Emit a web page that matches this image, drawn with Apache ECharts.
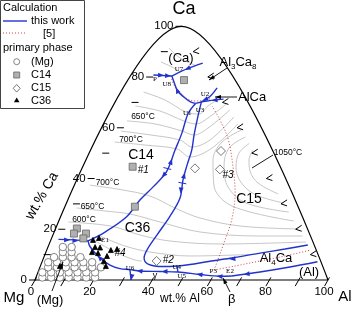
<!DOCTYPE html>
<html>
<head>
<meta charset="utf-8" />
<title></title>
<script src="https://cdn.jsdelivr.net/npm/echarts@6.0.0/dist/echarts.min.js"></script>
</head>
<body style="margin:0;background:#fff;">
<div id="main" style="width:355px;height:312px;"></div>
<script>
// all compositions are [wt.% Al, wt.% Ca], Mg is the balance
var tickValues = [0, 10, 20, 30, 40, 50, 60, 70, 80, 90, 100];
var majorTicks = [0, 20, 40, 60, 80, 100];

// calculated univariant lines (this work)
var lineP = [[0, 80.8], [3.4, 80.6], [6.5, 80.4]];
var lineU7 = [[6.5, 80.4], [10.5, 83.4], [14.5, 85.5]];
var lineU8U1 = [[6.5, 80.4], [9.35, 76.9], [11.3, 74.6], [14.45, 72.3], [17.75, 70.3], [20.0, 69.6]];
var lineU1U2 = [[20.0, 69.6], [21.7, 70.2], [23.55, 72.3], [24.3, 75.7]];
var lineU3Edge = [[21.7, 70.2], [25.5, 70.9], [28.7, 71.3]];
var lineA = [[20.0, 69.6], [19.45, 65.7], [21.2, 57.8], [22.2, 51.2], [23.55, 42.7], [22.0, 36.8],
  [20.05, 31.5], [18.8, 24.95], [14.45, 18.9], [10.4, 15.4]];
var lineB = [[21.7, 70.2], [23.2, 65.0], [25.7, 57.2], [27.9, 51.2], [29.25, 45.3], [30.8, 39.4],
  [33.35, 32.3], [33.5, 25.2], [32.75, 17.7], [32.3, 11.8], [32.9, 8.67], [35.45, 6.3], [41.05, 5.3],
  [45.75, 5.5], [49.85, 6.1], [55.1, 7.2], [62.3, 8.55], [71.5, 10.6], [79.2, 12.2], [86.2, 13.8]];
var lineMgE1 = [[0, 16.0], [5.75, 15.8], [10.4, 15.4]];
var lineE1E2 = [[10.4, 15.4], [12.25, 13.1], [17.85, 8.67], [22.65, 5.9], [26.75, 4.5], [30.35, 4.1],
  [34.05, 3.55], [41.0, 3.35], [47.2, 3.15], [55.2, 2.17], [62.4, 1.46], [66.4, 1.58]];
var lineE2Edge = [[66.4, 1.58], [75.2, 3.15], [84.45, 5.12], [92.8, 7.2]];
var lineU6 = [[30.35, 4.1], [32.8, 0]];
var lineU4U5 = [[45.75, 5.5], [47.2, 3.15]];
var thisWork = [lineP, lineU7, lineU8U1, lineU1U2, lineU3Edge, lineA, lineB, lineMgE1, lineE1E2, lineE2Edge, lineU6, lineU4U5];

// arrows: position, then a point that gives the direction
var arrows = [[2.5, 80.7, 6.5, 80.4], [5.0, 80.5, 8, 80.3], [10.5, 83.4, 6.5, 80.4], [11.3, 74.6, 9.35, 76.9],
  [22.6, 71.2, 21.0, 70.0], [26.0, 70.9, 23.5, 70.6], [23.15, 46.5, 22.2, 51.2], [23.3, 41.4, 22.0, 36.8],
  [30.35, 41.0, 29.25, 45.3], [32.05, 35.5, 33.35, 32.3], [17.85, 8.67, 12.25, 13.1], [2.9, 15.8, 5.75, 15.8],
  [5.9, 15.5, 10.4, 15.4], [32.35, 1.3, 32.8, 0], [34.05, 3.55, 30.35, 4.1], [42.7, 3.35, 41.0, 3.35],
  [55.2, 2.17, 47.2, 3.15], [62.4, 1.46, 55.2, 2.17], [71.2, 2.36, 66.4, 1.58], [63.4, 8.3, 55.1, 7.2]];
var saddles = [[23.2, 43.95, 23.55, 42.7], [31.2, 38.2, 30.8, 39.4]];

// reference [5]
var ref5a = [[7.0, 79.2], [10.35, 75.5], [13.45, 73.3], [16.55, 71.3], [19.7, 70.55], [22.55, 70.9], [24.55, 71.7]];
var ref5b = [[26.1, 68.6], [31.55, 63.1], [38.4, 55.2], [46.0, 43.4], [51.2, 34.2], [55.3, 23.65], [56.95, 15.8], [58.7, 6.6], [59.1, 3.94]];
var ref5c = [[59.1, 3.94], [65.5, 5.5], [73.0, 7.5], [80.6, 9.45], [88.2, 11.8]];

// liquidus isotherms
var isoCa = [
  [[0, 91.45], [5.74, 87.5], [12.25, 84.7]],
  [[0, 85.93], [4.78, 83.96], [8.49, 82.0]]
];
var isoUpper = [
  [[0, 74.1], [8.9, 70.95], [18.44, 66.2], [23.27, 65.4], [24.74, 68.6], [26.0, 70.16]],
  [[0, 68.6], [9.36, 66.6], [19.52, 62.67], [24.2, 61.49], [27.1, 63.85], [30.6, 69.4]],
  [[0, 62.7], [10.25, 61.5], [20.8, 58.73], [25.7, 57.15], [29.1, 59.91], [33.0, 67.0]],
  [[0, 58.7], [10.65, 57.2], [21.9, 55.18], [27.37, 52.42], [32.14, 55.18], [35.75, 64.25]],
  [[0, 54.4], [10.9, 53.2], [22.64, 51.64], [28.66, 48.48], [34.4, 52.03], [38.5, 61.5]]
];
var isoArcs = [
  [[48.76, 51.24], [49.39, 47.3], [51.9, 42.96], [57.0, 38.23], [66.1, 33.9]],
  [[46.2, 53.8], [44.59, 50.06], [46.33, 44.54], [50.49, 39.02], [57.79, 33.9], [69.65, 30.35]],
  [[43.63, 56.37], [40.2, 52.03], [42.05, 44.93], [47.54, 36.66], [56.84, 30.35], [73.2, 26.8]],
  [[40.9, 59.1], [36.62, 54.4], [37.1, 47.3], [42.57, 37.05], [52.66, 29.17], [76.74, 23.26]]
];
var isoLower = [
  [[0, 37.4], [11.18, 35.67], [22.7, 33.11], [33.59, 28.38], [44.09, 24.44], [59.33, 21.28], [79.9, 20.1]],
  [[0, 28.38], [10.29, 27.2], [19.42, 26.0], [31.23, 22.86], [46.85, 18.92], [68.12, 17.34], [82.66, 17.34]],
  [[0, 22.86], [9.45, 22.07], [16.86, 20.89], [26.97, 17.74], [38.39, 15.37], [56.05, 14.19], [85.0, 14.98]],
  [[13.51, 17.34], [24.02, 13.4], [33.73, 11.04], [48.17, 9.46], [68.36, 10.05]],
  [[11.82, 15.96], [21.78, 11.04], [30.19, 7.88], [32.77, 7.49]]
];

// primary phase of the samples
var ptsMg = [[2, 1], [5, 1], [8, 1], [11, 1], [14, 1], [17, 1], [20, 1],
  [1, 3], [4, 3], [7, 3], [10, 3], [13, 3], [16, 3], [19, 3],
  [2, 5], [5, 5], [8, 5], [11, 5], [14, 5], [17, 5], [20, 5],
  [1, 7], [4, 7], [7, 7], [10, 7], [13, 7], [16, 7],
  [2, 9], [5, 9], [8, 9], [11, 9], [4, 11], [7, 11], [3, 13], [6, 13]];
var ptsC14 = [[11.0, 44.65], [19.65, 28.9], [11.45, 78.8], [4.15, 20.3], [4.15, 18.3], [8.25, 18.3], [8.3, 16.4]];
var ptsC15 = [[38.05, 50.85], [41.3, 43.6], [32.6, 44.0], [37.75, 7.5]];
var ptsC36 = [[11.9, 15.8], [13.55, 16.55], [14.0, 13.0], [15.8, 12.8], [13.95, 11.0], [16.2, 10.6],
  [20.0, 11.8], [21.9, 12.2], [19.85, 9.46], [19.75, 7.5], [21.45, 5.5], [5.75, 5.5]];

var BLUE = '#2233cc';
var RED = '#d0454a';
var GRAY = '#b8b8b8';
var SANS = "'Liberation Sans', Arial, sans-serif";
var SERIF = "'Liberation Serif', 'Times New Roman', serif";
var H = Math.sqrt(3) / 2;
function tern(p) { return [p[0] + p[1] / 2, p[1] * H]; }

function curve(pts, color, width, type, z) {
  return {
    type: 'line', data: pts.map(tern), smooth: 0.35, symbol: 'none', silent: true, clip: false,
    lineStyle: { color: color, width: width, type: type }, z: z
  };
}

var series = [];
isoCa.concat(isoUpper, isoArcs, isoLower).forEach(function (c) { series.push(curve(c, GRAY, 0.8, 'solid', 1)); });
[ref5a, ref5b, ref5c].forEach(function (c) { series.push(curve(c, RED, 1, [1, 2], 2)); });
thisWork.forEach(function (c) { series.push(curve(c, BLUE, 1.4, 'solid', 3)); });
series.push(curve([[0, 0], [100, 0], [0, 100], [0, 0]], '#000', 1.2, 'solid', 4));

// axis ticks and tick labels
series.push({
  type: 'custom', coordinateSystem: 'cartesian2d', clip: false, silent: true, z: 5,
  data: tickValues.map(function (v) { return [v, 0]; }),
  renderItem: function (params, api) {
    var v = api.value(0);
    var L = api.coord(tern([0, v]));
    var B = api.coord(tern([v, 0]));
    var R = api.coord(tern([100 - v, v]));
    var st = { stroke: '#000', lineWidth: 1 };
    var kids = [
      { type: 'line', shape: { x1: L[0] - 6, y1: L[1], x2: L[0] + 1, y2: L[1] }, style: st },
      { type: 'line', shape: { x1: B[0] + 1.5, y1: B[1] - 2.6, x2: B[0] - 3.5, y2: B[1] + 6.1 }, style: st }
    ];
    if (v > 0 && v < 100) {
      kids.push({ type: 'polyline', shape: { points: [[R[0] + 3, R[1] - 4], [R[0] - 3, R[1]], [R[0] + 3, R[1] + 2]] }, style: { stroke: '#000', lineWidth: 1, fill: null } });
    }
    if (majorTicks.indexOf(v) >= 0) {
      kids.push({ type: 'text', x: L[0] - 8, y: L[1], style: { text: String(v), fill: '#000', font: '11.5px ' + SANS, align: 'right', verticalAlign: 'middle' } });
      kids.push({ type: 'text', x: B[0] - 4, y: B[1] + 12, style: { text: String(v), fill: '#000', font: '11.5px ' + SANS, align: 'center', verticalAlign: 'middle' } });
    }
    return { type: 'group', children: kids };
  }
});

// direction arrows on the calculated lines
series.push({
  type: 'custom', coordinateSystem: 'cartesian2d', clip: false, silent: true, z: 6,
  data: arrows,
  renderItem: function (params, api) {
    var p = api.coord(tern([api.value(0), api.value(1)]));
    var q = api.coord(tern([api.value(2), api.value(3)]));
    var a = Math.atan2(q[1] - p[1], q[0] - p[0]);
    var c = Math.cos(a), s = Math.sin(a);
    var tip = [p[0] + 3.5 * c, p[1] + 3.5 * s];
    var b1 = [p[0] - 2.5 * c - 2.4 * s, p[1] - 2.5 * s + 2.4 * c];
    var b2 = [p[0] - 2.5 * c + 2.4 * s, p[1] - 2.5 * s - 2.4 * c];
    return { type: 'polygon', shape: { points: [tip, b1, b2] }, style: { fill: BLUE } };
  }
});
series.push({
  type: 'custom', coordinateSystem: 'cartesian2d', clip: false, silent: true, z: 6,
  data: saddles,
  renderItem: function (params, api) {
    var p = api.coord(tern([api.value(0), api.value(1)]));
    var q = api.coord(tern([api.value(2), api.value(3)]));
    var a = Math.atan2(q[1] - p[1], q[0] - p[0]);
    var c = Math.cos(a), s = Math.sin(a);
    return { type: 'line', shape: { x1: p[0] - 4 * s, y1: p[1] + 4 * c, x2: p[0] + 4 * s, y2: p[1] - 4 * c }, style: { stroke: BLUE, lineWidth: 1 } };
  }
});

function pts(data, symbol, size, fill, stroke) {
  return {
    type: 'scatter', data: data.map(tern), symbol: symbol, symbolSize: size, silent: true, z: 7,
    itemStyle: { color: fill, borderColor: stroke, borderWidth: 0.8, opacity: 1 }
  };
}
series.push(pts(ptsMg, 'circle', 7.5, '#fff', '#666'));
series.push(pts(ptsC14, 'rect', 7, '#b0b0b0', '#666'));
series.push(pts(ptsC15, 'diamond', 9, '#fff', '#555'));
series.push(pts(ptsC36, 'triangle', 5, '#000', '#000'));

function txt(x, y, text, size, opts) {
  opts = opts || {};
  return {
    type: 'text', x: x, y: y, rotation: opts.rot || 0, z: 20,
    style: {
      text: text, fill: '#000', font: (opts.italic ? 'italic ' : '') + size + 'px ' + (opts.serif ? SERIF : SANS),
      align: opts.align || 'center', verticalAlign: 'middle', rich: opts.rich
    }
  };
}
function pointer(x1, y1, x2, y2, head) {
  var out = [{ type: 'line', z: 20, shape: { x1: x1, y1: y1, x2: x2, y2: y2 }, style: { stroke: '#000', lineWidth: 0.9 } }];
  if (head) {
    var a = Math.atan2(y2 - y1, x2 - x1), c = Math.cos(a), s = Math.sin(a);
    out.push({ type: 'polygon', z: 20, shape: { points: [[x2, y2], [x2 - 6 * c - 2 * s, y2 - 6 * s + 2 * c], [x2 - 6 * c + 2 * s, y2 - 6 * s - 2 * c]] }, style: { fill: '#000' } });
  }
  return out;
}
var sub = { n: { font: '13px ' + SANS, fill: '#000' }, s: { font: '8px ' + SANS, fill: '#000', padding: [9, 0, 0, 0] } };

var graphic = [
  { type: 'rect', z: 19, shape: { x: 0.5, y: 0.5, width: 84, height: 108 }, style: { fill: '#fff', stroke: '#444', lineWidth: 1 } },
  txt(3, 8, 'Calculation', 11, { align: 'left' }),
  { type: 'line', z: 20, shape: { x1: 3, y1: 21, x2: 27, y2: 21 }, style: { stroke: BLUE, lineWidth: 1.4 } },
  txt(31, 21, 'this work', 11, { align: 'left' }),
  { type: 'line', z: 20, shape: { x1: 3, y1: 33, x2: 27, y2: 33 }, style: { stroke: RED, lineWidth: 1, lineDash: [1, 2] } },
  txt(43, 34, '[5]', 11, { align: 'left' }),
  txt(3, 48, 'primary phase', 11, { align: 'left' }),
  { type: 'circle', z: 20, shape: { cx: 16.7, cy: 61.7, r: 3 }, style: { fill: '#fff', stroke: '#666', lineWidth: 0.8 } },
  txt(31, 62, '(Mg)', 11, { align: 'left' }),
  { type: 'rect', z: 20, shape: { x: 13.7, y: 72, width: 6, height: 6 }, style: { fill: '#b0b0b0', stroke: '#666', lineWidth: 0.8 } },
  txt(31, 75, 'C14', 11, { align: 'left' }),
  { type: 'polygon', z: 20, shape: { points: [[16.7, 84.5], [20.2, 88.3], [16.7, 92.1], [13.2, 88.3]] }, style: { fill: '#fff', stroke: '#555', lineWidth: 0.8 } },
  txt(31, 88, 'C15', 11, { align: 'left' }),
  { type: 'polygon', z: 20, shape: { points: [[16.7, 97.5], [19.5, 102.3], [13.9, 102.3]] }, style: { fill: '#000' } },
  txt(31, 101, 'C36', 11, { align: 'left' }),

  txt(184, 9, 'Ca', 18),
  txt(14, 298, 'Mg', 15),
  txt(345, 297, 'Al', 15),
  txt(42, 196, 'wt.% Ca', 14, { rot: Math.PI / 3 }),
  txt(180, 299, 'wt.% Al', 12),

  txt(181, 58, '(Ca)', 13),
  txt(238, 62, '{n|Al}{s|3}{n|Ca}{s|8}', 13, { rich: sub }),
  txt(238, 97, 'AlCa', 13, { align: 'left' }),
  txt(141, 155, 'C14', 14),
  txt(137.5, 228, 'C36', 14),
  txt(249, 199, 'C15', 14),
  txt(276, 258, '{n|Al}{s|4}{n|Ca}', 13, { rich: sub }),
  txt(309, 272, '(Al)', 13),
  txt(50, 300, '(Mg)', 13),
  txt(231.7, 299, 'β', 13),
  txt(155, 276, 'γ', 9),

  txt(143, 117, '650°C', 8.5), txt(131, 140, '700°C', 8.5), txt(107.5, 183, '700°C', 8.5),
  txt(92.5, 207, '650°C', 8.5), txt(84, 220, '600°C', 8.5), txt(288, 153, '1050°C', 8.5),

  txt(155, 79, 'P', 7, { serif: true }), txt(166.7, 84, 'U8', 7, { serif: true }), txt(179, 69, 'U7', 7, { serif: true }),
  txt(205, 94.3, 'U2', 7, { serif: true }), txt(187.3, 112.7, 'U1', 7, { serif: true }), txt(200, 110, 'U3', 7, { serif: true }),
  txt(130, 268.3, 'U6', 7, { serif: true }), txt(176.7, 266.7, 'U4', 7, { serif: true }), txt(181.7, 276, 'U5', 7, { serif: true }),
  txt(213.3, 271, 'P3', 7, { serif: true }), txt(230, 271, 'E2', 7, { serif: true }), txt(105, 240, 'E1', 7, { serif: true }),

  txt(143.3, 170, '#1', 10, { italic: true }), txt(168.3, 260, '#2', 10, { italic: true }),
  txt(228, 175, '#3', 10, { italic: true }), txt(120, 253.3, '#4', 10, { italic: true })
];
graphic = graphic.concat(
  pointer(227, 68, 209, 80, true),
  pointer(237, 97, 215, 97, true),
  pointer(52, 291, 63, 262, true),
  pointer(230, 292, 223, 278, true),
  pointer(273, 155, 252, 168, false)
);

var option = {
  animation: false,
  backgroundColor: '#fff',
  grid: { left: 35, right: 27, top: 26.3, bottom: 32 },
  xAxis: { type: 'value', min: 0, max: 100, show: false },
  yAxis: { type: 'value', min: 0, max: 100 * H, show: false },
  series: series,
  graphic: graphic
};
var chart = echarts.init(document.getElementById('main'));
chart.setOption(option);
</script>
</body>
</html>
